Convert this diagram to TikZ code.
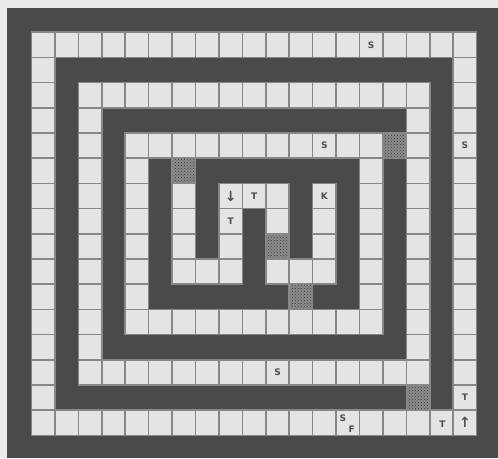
\documentclass[tikz,border=0pt]{standalone}
\usepackage{fontspec}
\setsansfont{DejaVu Sans}
\usetikzlibrary{patterns}
\definecolor{bgc}{HTML}{EAEAEA}
\definecolor{wallc}{HTML}{4A4A4A}
\definecolor{cellc}{HTML}{E4E4E4}
\definecolor{linec}{HTML}{878787}
\definecolor{txtc}{HTML}{4E4E4E}
\definecolor{chkc}{HTML}{8C8C8C}
\definecolor{dotc}{HTML}{3C3C3C}
\tikzset{
  cellbox/.style={draw=linec, line width=1.5pt, fill=cellc, anchor=north west,
    minimum width=23.43pt, minimum height=25.2pt, inner sep=0pt, outer sep=0pt},
  chkbox/.style={cellbox, preaction={fill=chkc}, pattern=crosshatch dots, pattern color=dotc},
  lbl/.style={font=\sffamily\bfseries\fontsize{9}{10}\selectfont, text=txtc, inner sep=0pt},
  arr/.style={font=\sffamily\bfseries\fontsize{14}{14}\selectfont, text=txtc, inner sep=0pt}
}
\newcommand\mycell[3]{\node[#3] (c-#1-#2) at ({31.5+23.43*#1},{32.2+25.2*#2}) {};}
\begin{document}
\begin{tikzpicture}[x=1pt,y=-1pt]
\useasboundingbox (0,0) rectangle (498,458);
\fill[bgc] (0,0) rectangle (498,458);
\fill[wallc] (7,8) rectangle (498,458);
% outer ring
\foreach \c in {0,...,18} {\mycell{\c}{0}{cellbox}\mycell{\c}{15}{cellbox}}
\foreach \r in {1,...,14} {\mycell{0}{\r}{cellbox}\mycell{18}{\r}{cellbox}}
% second ring
\foreach \c in {2,...,16} {\mycell{\c}{2}{cellbox}\mycell{\c}{13}{cellbox}}
\foreach \r in {3,...,12} {\mycell{2}{\r}{cellbox}\mycell{16}{\r}{cellbox}}
\mycell{16}{14}{chkbox}
% third ring
\foreach \c in {4,...,14} {\mycell{\c}{4}{cellbox}\mycell{\c}{11}{cellbox}}
\foreach \r in {5,...,10} {\mycell{4}{\r}{cellbox}\mycell{14}{\r}{cellbox}}
\mycell{15}{4}{chkbox}
\mycell{6}{5}{chkbox}
% inner part
\foreach \r in {6,...,9} {\mycell{6}{\r}{cellbox}\mycell{12}{\r}{cellbox}}
\foreach \r in {6,...,8} {\mycell{8}{\r}{cellbox}}
\mycell{7}{9}{cellbox}
\mycell{8}{9}{cellbox}
\mycell{9}{6}{cellbox}
\mycell{10}{6}{cellbox}
\mycell{10}{7}{cellbox}
\mycell{10}{8}{chkbox}
\mycell{10}{9}{cellbox}
\mycell{11}{9}{cellbox}
\mycell{11}{10}{chkbox}
% labels
\node[lbl] (l1) at (c-14-0) {S};
\node[lbl] (l2) at (c-18-4) {S};
\node[lbl] (l3) at (c-12-4) {S};
\node[lbl] (l4) at (c-10-13) {S};
\node[lbl] (l5) at (c-9-6) {T};
\node[lbl] (l6) at (c-8-7) {T};
\node[lbl] (l7) at (c-18-14) {T};
\node[lbl] (l8) at ([xshift=1pt,yshift=-1pt]c-17-15.center) {T};
\node[lbl] (l9) at (c-12-6) {K};
\node[arr] (l10) at (c-8-6) {↓};
\node[arr] (l11) at (c-18-15) {↑};
\node[lbl] (l12) at ([xshift=-5pt,yshift=5pt]c-13-15.center) {S};
\node[lbl] (l13) at ([xshift=4pt,yshift=-6pt]c-13-15.center) {F};
\end{tikzpicture}
\end{document}
